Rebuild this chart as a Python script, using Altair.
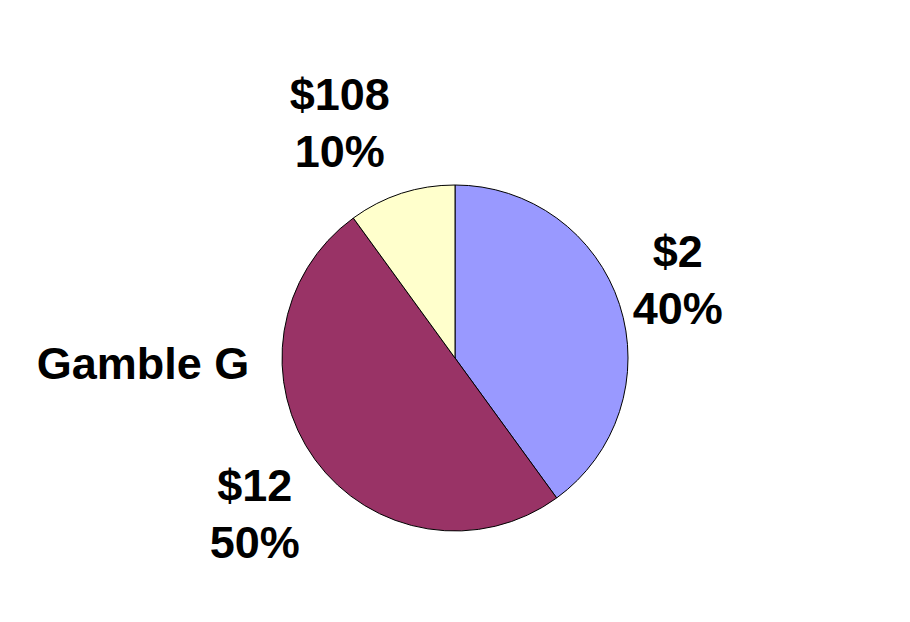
import altair as alt
import pandas as pd

outcomes = ["$2", "$12", "$108"]
probs = [40, 50, 10]
colors = ["#9999FF", "#993366", "#FFFFCC"]
title_text = ["Gamble G"]

df = pd.DataFrame({"outcome": outcomes, "prob": probs, "idx": list(range(len(outcomes)))})
df["label"] = [f"{o}\n{p}%" for o, p in zip(outcomes, probs)]

cx, cy = 447, 350
theta_scale = alt.Scale(domain=[0, 100])
FONT = "Liberation Sans"
FS = 45

base = alt.Chart(df).transform_stack(
    stack="prob", groupby=[], as_=["t0", "t1"], sort=[alt.SortField("idx")]
).transform_calculate(mid="(datum.t0 + datum.t1) / 2")

pie = base.mark_arc(stroke="black", strokeWidth=1, outerRadius=173).encode(
    theta=alt.Theta("t0:Q", scale=theta_scale),
    theta2="t1:Q",
    color=alt.Color("outcome:N", scale=alt.Scale(domain=outcomes, range=colors), legend=None),
    x=alt.value(cx),
    y=alt.value(cy),
)

offsets = {"$2": (-15, -28), "$12": (2, -18), "$108": (-38, -24)}
layers = [pie]
for o in outcomes:
    dx, dy = offsets[o]
    layers.append(
        base.transform_filter(alt.datum.outcome == o)
        .mark_text(
            radius=250, dx=dx, dy=dy, lineBreak="\n", fontSize=FS, fontWeight="bold",
            font=FONT, lineHeight=57, align="center", baseline="middle", color="black",
        )
        .encode(
            theta=alt.Theta("mid:Q", scale=theta_scale),
            text="label:N",
            x=alt.value(cx),
            y=alt.value(cy),
        )
    )

title_df = pd.DataFrame({"t": title_text})
title = alt.Chart(title_df).mark_text(
    fontSize=FS, fontWeight="bold", font=FONT, align="center", baseline="middle", color="black"
).encode(text="t:N", x=alt.value(135), y=alt.value(357))
layers.append(title)

chart = alt.layer(*layers).properties(
    width=894, height=606, autosize="none", padding=0, background="white"
).configure_view(stroke=None)

chart.save("out.html", embed_options={"renderer": "svg", "actions": False})
